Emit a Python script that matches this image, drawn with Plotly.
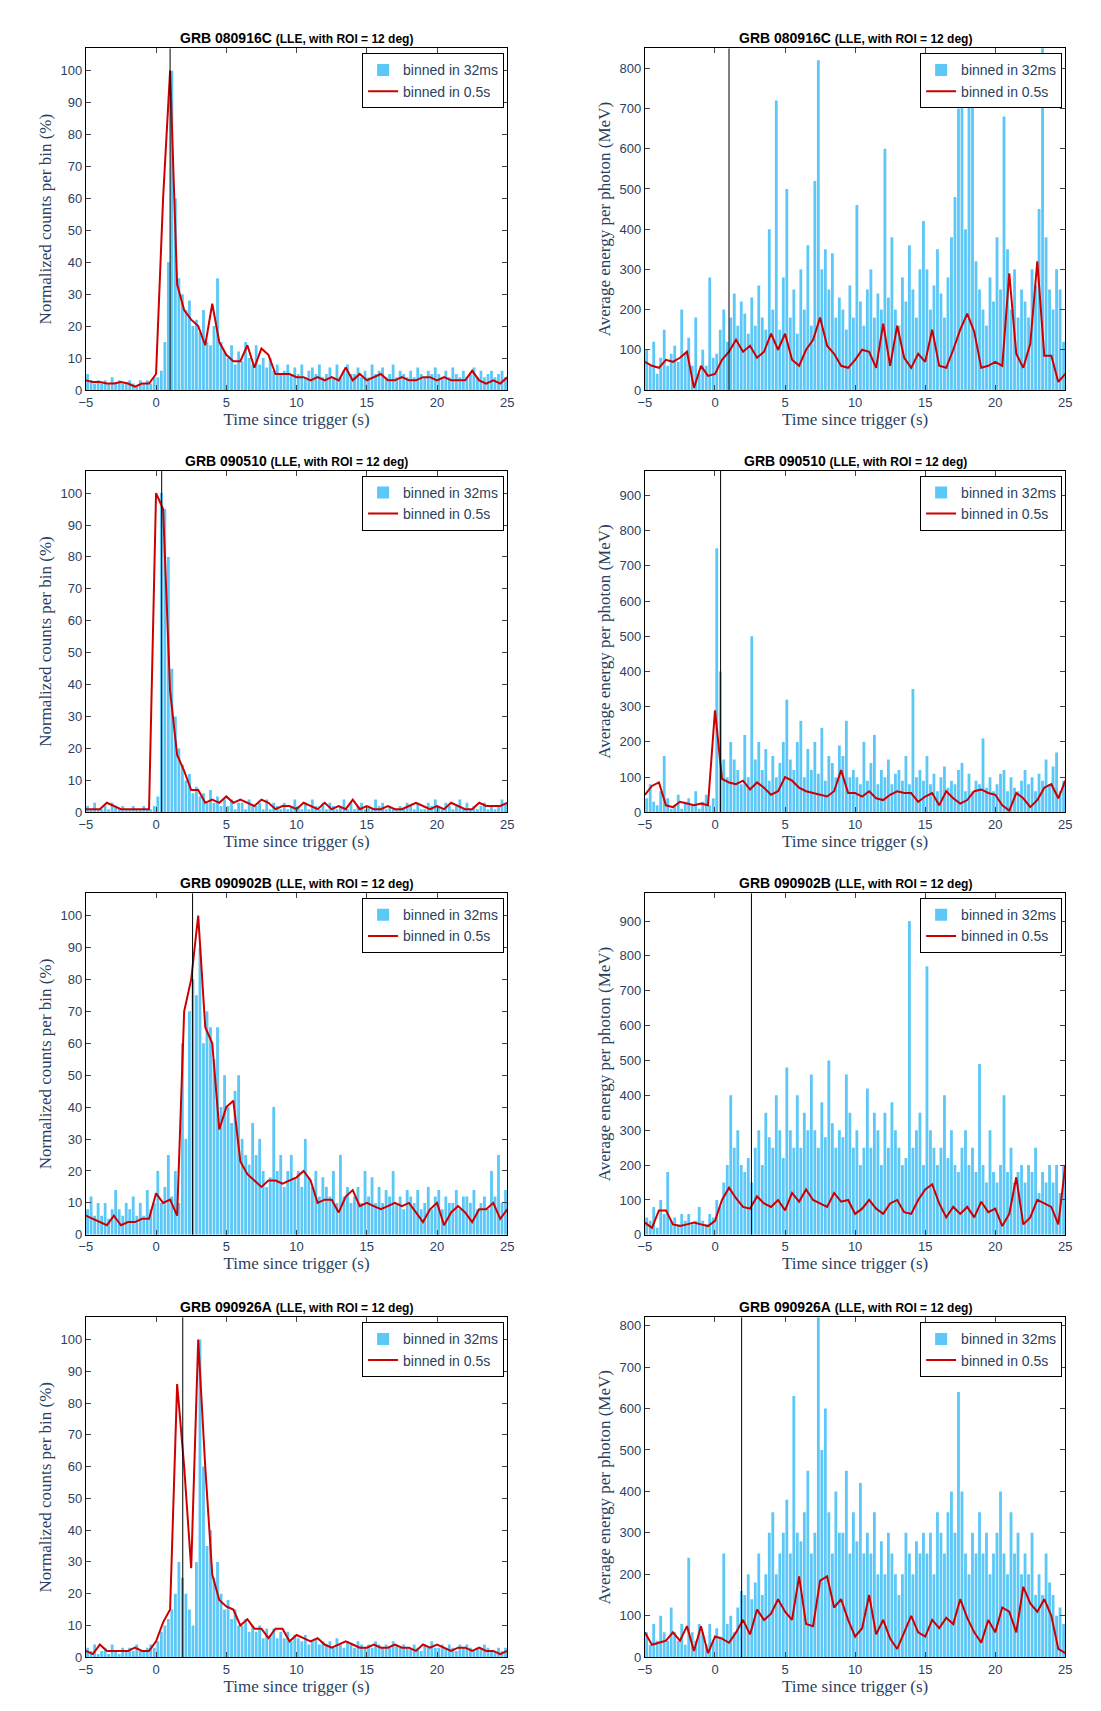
import plotly.graph_objects as go

# bins: 0.25 s display bins for the fine series, 0.5 s for the line
t_fine = [-5 + 0.125 + 0.25 * i for i in range(120)]
t_half = [-5 + 0.5 * i for i in range(61)]

names = ["GRB 080916C", "GRB 090510", "GRB 090902B", "GRB 090926A"]
trig = [1.0, 0.4, 2.6, 1.9]
trig_r = [1.0, 0.4, 2.6, 1.9]

cnt_bar = [
    [5,3,2,3, 2,3,2,4, 2,3,2,2, 3,2,1,3, 2,3,2,4, 4,6,15,40, 100,60,35,30, 25,28,20,22,
     18,25,15,14, 20,35,15,12, 10,14,8,12, 9,15,10,8, 14,8,10,7, 10,6,8,5, 6,8,5,7,
     5,8,4,6, 7,5,8,4, 5,7,4,8, 4,6,8,5, 5,7,4,6, 4,8,5,6, 7,4,5,8, 4,6,5,4, 6,4,7,5,
     4,6,5,7, 5,4,6,4, 7,5,4,6, 4,5,7,4, 6,4,5,6, 4,5,6,4],
    [2,1,3,1, 1,2,1,3, 2,1,2,1, 1,2,1,1, 2,1,1,2, 5,100,95,80, 45,30,20,15, 10,12,6,8,
     5,6,3,7, 3,5,2,4, 2,4,1,3, 3,1,4,2, 2,3,1,4, 1,3,2,1, 3,1,2,4, 2,1,3,1, 4,2,1,3,
     1,3,2,1, 2,4,1,3, 1,2,3,1, 2,1,4,2, 3,1,2,1, 1,2,1,3, 2,1,3,1, 1,3,2,4, 2,1,3,2,
     1,2,4,1, 3,1,2,1, 2,3,1,2, 1,2,4,3, 2,3,1,5, 3,2,4,3],
    [8,12,6,10, 6,10,5,8, 14,8,6,10, 8,12,6,10, 6,14,8,10, 20,10,15,25, 12,20,10,60,
     30,70,80,75, 90,60,70,65, 55,65,40,50, 40,35,45,50, 30,25,22,35, 25,30,20,15,
     18,40,20,25, 15,20,25,18, 20,15,30,18, 15,20,12,18, 15,12,20,10, 25,12,15,10,
     12,15,10,20, 12,18,10,15, 10,14,12,20, 10,12,8,14, 12,10,14,8, 10,15,8,12,
     14,8,12,10, 10,14,8,12, 12,10,14,8, 10,12,8,20, 12,25,10,14],
    [3,2,4,1, 2,3,1,4, 2,1,3,2, 3,2,4,2, 2,3,4,3, 5,8,10,12, 15,20,30,25, 20,15,10,30,
     100,60,35,40, 25,30,20,15, 18,12,15,10, 10,12,8,10, 8,10,6,9, 7,9,6,8, 6,8,5,7,
     6,5,7,4, 5,6,4,5, 4,5,3,6, 4,3,5,4, 3,5,4,3, 4,3,5,4, 3,4,3,5, 4,3,4,3, 3,4,3,2,
     4,3,5,3, 3,4,3,4, 3,2,4,3, 4,3,2,3, 3,4,3,2, 2,3,2,3],
]

cnt_line = [
    [3,2.5,2.5,2,2,2.5,2,1,2,2,5,60,100,33,25,22,20,14,27,15,11,9,9,14,7,13,11,5,5,5,
     4,4,3,4,3,4,3,7,3,5,3,4,5,3,3,4,3,3,4,4,3,4,3,3,3,6,3,2,3,2,4],
    [1,1,1,3,2,1,1,1,1,1,100,95,38,18,13,7,7,3,4,3,5,3,4,3,2,4,3,1,2,2,
     1,3,2,1,3,1,2,1,4,1,2,1,1,2,1,1,2,3,2,1,2,1,3,2,1,1,3,2,2,2,3],
    [6,5,4,3,6,3,4,4,5,5,13,10,11,6,70,80,100,65,60,33,40,42,23,19,17,15,17,17,16,17,
     18,20,17,10,11,11,7,12,14,9,10,9,8,9,10,9,10,7,4,8,10,3,7,9,7,4,8,8,10,5,8],
    [2,1,4,2,2,2,2,3,2,2,5,11,15,86,60,28,100,60,26,18,16,15,10,12,9,9,6,9,9,5,
     7,6,5,6,4,3,4,5,4,3,3,4,3,3,4,3,3,2,4,3,4,3,2,3,3,2,3,2,2,1,2],
]

en_bar = [
    [100,60,120,40, 80,150,60,90, 110,70,200,90, 130,60,180,40, 100,60,280,80,
     90,150,200,120, 180,240,160,220, 190,140,230,160, 260,180,150,400, 200,720,150,280,
     500,180,250,140, 300,200,360,160, 520,820,300,350, 250,340,180,230, 200,150,260,180,
     460,220,160,250, 300,180,240,200, 600,230,380,200, 160,280,220,360, 250,180,300,420,
     300,200,260,350, 240,180,280,380, 480,700,730,400, 770,750,320,250, 200,160,280,220,
     380,250,680,350, 200,300,180,250, 220,180,300,260, 450,860,380,250, 200,300,250,120],
    [40,80,30,20, 60,160,40,10, 20,50,10,30, 40,20,60,10, 30,50,20,40, 750,400,150,100,
     200,150,120,80, 220,100,500,150, 200,120,180,90, 160,100,140,200, 320,150,120,200,
     260,100,180,120, 200,110,240,90, 160,140,100,190, 160,260,100,120, 100,80,200,90,
     140,220,80,120, 100,150,80,110, 120,90,160,80, 350,100,120,90, 160,80,110,60,
     100,130,70,90, 80,120,140,60, 110,60,90,80, 210,70,100,60, 80,110,120,60,
     100,70,60,90, 120,80,100,60, 110,90,150,80, 130,170,60,90],
    [50,40,80,20, 100,60,180,40, 50,30,60,40, 60,30,40,80, 40,30,60,50, 100,80,150,200,
     400,250,300,200, 180,220,150,250, 300,200,350,280, 250,400,300,220, 480,300,250,400,
     250,350,300,460, 300,250,380,280, 500,320,250,300, 280,460,350,250, 300,200,250,420,
     250,350,300,200, 350,250,380,300, 250,200,220,900, 250,300,350,200, 770,300,250,200,
     250,400,220,300, 200,180,250,300, 200,250,180,490, 200,150,300,180, 150,200,400,180,
     250,150,180,200, 150,200,180,250, 120,180,150,200, 150,200,120,200],
    [60,30,80,40, 100,60,40,120, 60,40,80,30, 240,60,40,80, 60,30,80,40, 70,50,250,80,
     100,60,120,160, 150,200,140,180, 250,150,200,300, 350,200,250,300, 380,250,630,300,
     280,350,450,250, 300,820,500,600, 350,250,400,300, 300,450,250,350, 280,420,250,300,
     250,350,200,280, 200,300,250,200, 150,200,300,250, 200,280,250,300, 250,300,200,350,
     300,250,350,400, 300,640,400,250, 200,300,250,350, 250,300,200,250, 300,400,250,200,
     350,250,300,200, 250,200,300,150, 200,150,250,180, 150,100,120,80],
]

en_line = [
    [70,60,55,75,70,80,95,5,60,35,40,75,95,125,95,110,80,95,140,100,140,75,60,100,125,180,
     110,90,60,55,75,100,95,55,165,60,160,80,55,90,70,150,60,55,100,150,190,145,55,60,
     70,60,290,90,55,115,320,85,85,20,40],
    [50,75,85,20,15,30,25,20,25,20,290,95,85,80,90,65,85,70,50,60,100,90,70,60,55,50,
     45,60,120,55,55,45,60,40,35,50,60,55,55,30,45,55,20,60,40,25,35,60,65,55,50,20,
     5,55,40,15,35,70,80,40,90],
    [35,20,70,70,30,25,30,35,30,25,40,100,135,105,80,75,110,90,80,100,70,120,95,130,100,
     90,80,120,95,100,60,75,100,75,60,90,100,65,60,100,130,145,90,50,80,60,80,50,95,65,
     75,25,60,165,30,50,100,90,80,30,200],
    [60,30,35,40,60,40,75,15,75,10,50,45,35,60,90,55,115,90,105,140,110,90,195,80,75,
     185,195,120,140,90,50,70,150,55,90,45,20,60,100,60,50,90,70,95,80,140,95,60,35,90,
     60,120,110,60,170,130,110,140,100,20,10],
]

en_range = [850, 970, 980, 820]

BLUE = "#5cc8f8"
RED = "#cc0000"
xdom = [[0.057, 0.452], [0.581, 0.975]]
ydom = [[0.779, 0.982], [0.528, 0.731], [0.277, 0.480], [0.026, 0.228]]

fig = go.Figure()
layout = {}
ann = []
k = 0
for r in range(4):
    for c in range(2):
        k += 1
        sfx = "" if k == 1 else str(k)
        xa, ya = "x" + sfx, "y" + sfx
        leg = "legend" + sfx
        bars = cnt_bar[r] if c == 0 else en_bar[r]
        line = cnt_line[r] if c == 0 else en_line[r]
        ymax = 107 if c == 0 else en_range[r]
        fig.add_trace(go.Bar(x=t_fine, y=bars, width=0.2, marker_color=BLUE,
                             marker_line_width=0, name="binned in 32ms",
                             xaxis=xa, yaxis=ya, legend=leg))
        fig.add_trace(go.Scatter(x=t_half, y=line, mode="lines", line=dict(color=RED, width=2),
                                 name="binned in 0.5s", xaxis=xa, yaxis=ya, legend=leg))
        tv = trig[r] if c == 0 else trig_r[r]
        fig.add_trace(go.Scatter(x=[tv, tv], y=[0, ymax], mode="lines",
                                 line=dict(color="black", width=1), showlegend=False,
                                 xaxis=xa, yaxis=ya))
        ax = dict(domain=xdom[c], range=[-5, 25], tickvals=[-5, 0, 5, 10, 15, 20, 25],
                  showline=True, mirror="ticks", linecolor="black", ticks="inside",
                  ticklen=5, showgrid=False, zeroline=False, anchor=ya,
                  title=dict(text="Time since trigger (s)", standoff=2,
                             font=dict(family="Liberation Serif", size=17)),
                  tickfont=dict(family="Liberation Sans", size=13))
        ay = dict(domain=ydom[r], range=[0, ymax], dtick=10 if c == 0 else 100,
                  showline=True, mirror="ticks", linecolor="black", ticks="inside",
                  ticklen=5, showgrid=False, zeroline=False, anchor=xa,
                  title=dict(text="Normalized counts per bin (%)" if c == 0
                             else "Average energy per photon (MeV)", standoff=4,
                             font=dict(family="Liberation Serif", size=17)),
                  tickfont=dict(family="Liberation Sans", size=13))
        layout["xaxis" + sfx] = ax
        layout["yaxis" + sfx] = ay
        layout[leg] = dict(x=xdom[c][1] - 0.003, y=ydom[r][1] - 0.003, xanchor="right",
                           yanchor="top", bgcolor="white", bordercolor="black", borderwidth=1,
                           font=dict(family="Liberation Sans", size=14), tracegroupgap=0,
                           itemwidth=30)
        ann.append(dict(x=sum(xdom[c]) / 2, y=ydom[r][1], xref="paper", yref="paper",
                        xanchor="center", yanchor="bottom", showarrow=False,
                        text="<b>" + names[r] + "</b> <span style='font-size:12px'><b>(LLE, with ROI = 12 deg)</b></span>",
                        font=dict(family="Liberation Sans", size=14, color="black")))

fig.update_layout(**layout)
fig.update_layout(width=1101, height=1711, margin=dict(l=10, r=10, t=10, b=10),
                  plot_bgcolor="white", paper_bgcolor="white", barmode="overlay",
                  annotations=ann)
fig.write_html("out.html")
